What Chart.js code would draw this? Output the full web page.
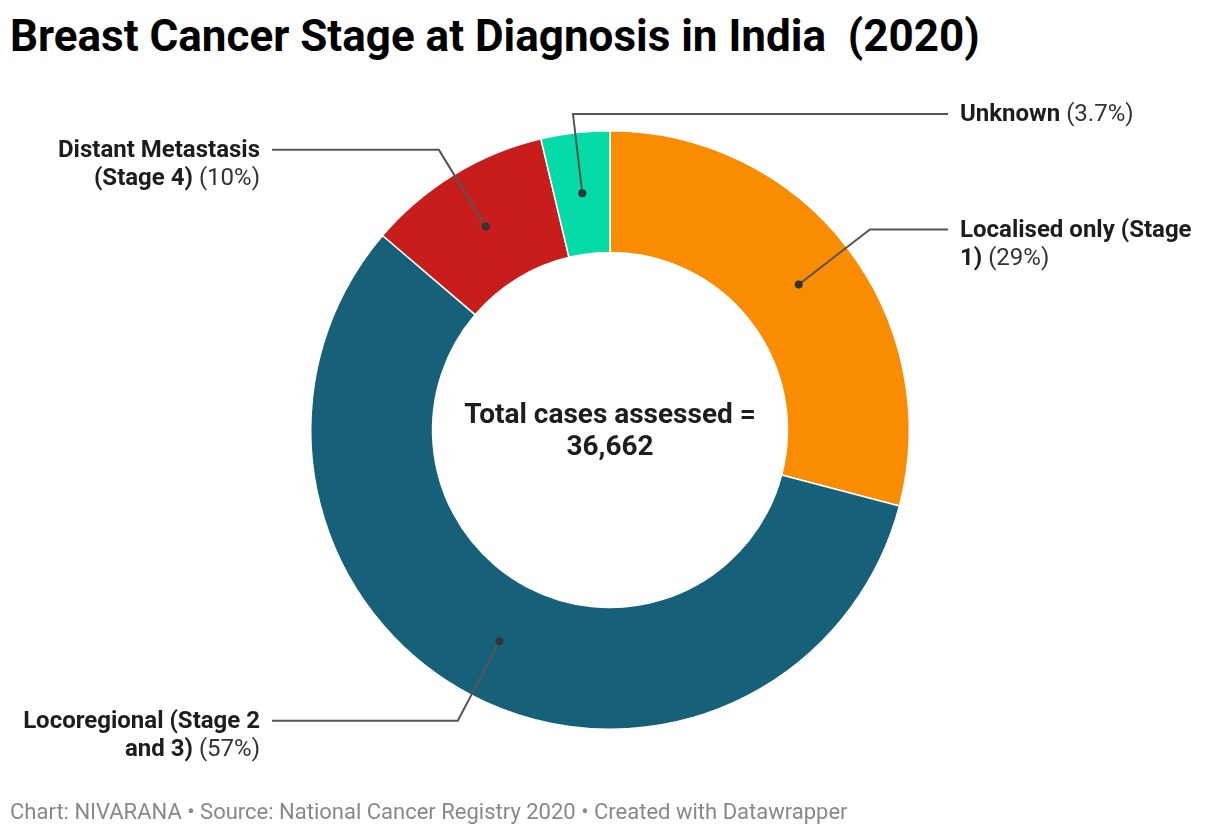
<!DOCTYPE html>
<html>
<head>
<meta charset="utf-8">
<script src="https://cdn.jsdelivr.net/npm/chart.js@4"></script>
<style>
  html, body { margin: 0; padding: 0; background: #fff; }
  body { width: 1220px; height: 836px; position: relative; overflow: hidden; font-family: Roboto, "Noto Sans", sans-serif; }
  h1 { position: absolute; left: 10px; top: 10px; margin: 0; font-size: 44px; line-height: 52px; font-weight: 700; color: #000; white-space: pre; }
  .footer { position: absolute; left: 10px; top: 798px; font-size: 22px; line-height: 28px; color: #888; }
  #wrap { position: absolute; left: 0; top: 0; width: 1220px; height: 836px; }
</style>
</head>
<body>
<h1>Breast Cancer Stage at Diagnosis in India  (2020)</h1>
<div id="wrap"><canvas id="donut"></canvas></div>
<div class="footer">Chart: NIVARANA • Source: National Cancer Registry 2020 • Created with Datawrapper</div>
<script>
    "use strict";

    // Data
    const categories = ["Localised only (Stage 1)", "Locoregional (Stage 2 and 3)", "Distant Metastasis (Stage 4)", "Unknown"];
    const shares = [29, 57, 10, 3.7];
    // label text as wrapped in the original: [bold part, plain part] per line
    const labelLines = [
        [["Localised only (Stage", ""], ["1)", " (29%)"]],
        [["Locoregional (Stage 2", ""], ["and 3)", " (57%)"]],
        [["Distant Metastasis", ""], ["(Stage 4)", " (10%)"]],
        [["Unknown", " (3.7%)"]],
    ];
    const labelSide = ["right", "left", "left", "right"];
    const colors = ["#f98c00", "#17607a", "#c71e1d", "#04dba8"];
    const centerLines = ["Total cases assessed =", "36,662"];

    // Leader lines + labels + center text
    const labelPlugin = {
        id: "dwLabels",
        afterDatasetsDraw(chart) {
            const ctx = chart.ctx;
            const arcs = chart.getDatasetMeta(0).data;
            ctx.save();
            arcs.forEach((arc, i) => {
                const cx = arc.x, cy = arc.y;
                const mid = (arc.startAngle + arc.endAngle) / 2;
                const dotR = (arc.innerRadius + arc.outerRadius) / 2;
                const dx = Math.cos(mid), dy = Math.sin(mid);
                const px = cx + dx * dotR, py = cy + dy * dotR;
                let ey = cy + dy * (arc.outerRadius + 29);
                ey = Math.max(ey, 114);
                const ex = cx + dx * ((ey - cy) / dy);
                const right = labelSide[i] === "right";
                const lineEnd = right ? 948 : 272;

                ctx.strokeStyle = "#555";
                ctx.lineWidth = 2;
                ctx.beginPath();
                ctx.moveTo(px, py);
                ctx.lineTo(ex, ey);
                ctx.lineTo(lineEnd, ey);
                ctx.stroke();

                ctx.fillStyle = "#333";
                ctx.beginPath();
                ctx.arc(px, py, 4, 0, Math.PI * 2);
                ctx.fill();

                ctx.textBaseline = "middle";
                labelLines[i].forEach((ln, k) => {
                    const y = ey + 1 + k * 28;
                    ctx.font = "bold 24px Roboto";
                    const wb = ctx.measureText(ln[0]).width;
                    ctx.font = "24px Roboto";
                    const wn = ctx.measureText(ln[1]).width;
                    const x = right ? 960 : 260 - wb - wn;
                    ctx.textAlign = "left";
                    ctx.fillStyle = "#1d1d1d";
                    ctx.font = "bold 24px Roboto";
                    ctx.fillText(ln[0], x, y);
                    ctx.font = "24px Roboto";
                    ctx.fillStyle = "#333";
                    ctx.fillText(ln[1], x + wb, y);
                });
            });

            const a0 = arcs[0];
            ctx.textAlign = "center";
            ctx.textBaseline = "middle";
            ctx.fillStyle = "#1d1d1d";
            ctx.font = "bold 28px Roboto";
            centerLines.forEach((t, k) => ctx.fillText(t, a0.x, a0.y - 14 + k * 32));
            ctx.restore();
        },
    };

    const ctx = document.getElementById("donut").getContext("2d");
    new Chart(ctx, {
        type: "doughnut",
        data: {
            labels: categories,
            datasets: [
                {
                    data: shares,
                    backgroundColor: colors,
                    borderColor: "#fff",
                    borderWidth: 1.5,
                    hoverOffset: 0,
                },
            ],
        },
        options: {
            responsive: true,
            maintainAspectRatio: false,
            animation: false,
            cutout: "59.3%",
            layout: {
                padding: { left: 310, right: 310, top: 129, bottom: 105 },
            },
            plugins: {
                legend: { display: false },
                tooltip: { enabled: false },
            },
        },
        plugins: [labelPlugin],
    });
</script>
</body>
</html>
